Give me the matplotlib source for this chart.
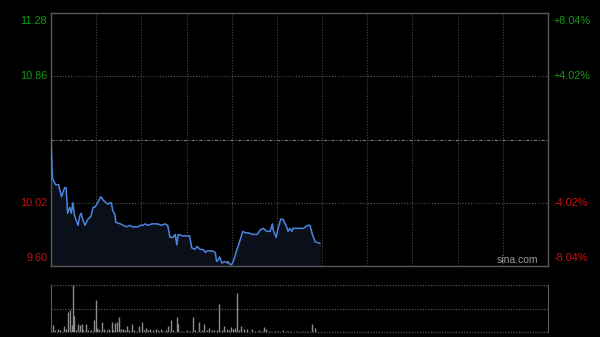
import numpy as np
import matplotlib
matplotlib.use('Agg')
import matplotlib.pyplot as plt

# intraday price (minutes since 9:30, HK session = 330 min)
t = [0, 1, 3, 5, 7, 9, 10, 11, 12.5, 13.5, 14.5, 15.5, 16.5, 18, 19, 20, 21, 22.5, 23.5, 24.5,
     26.5, 28, 29, 30.5, 32.5, 33, 34.5, 36.5, 38, 39, 40, 41, 42.5, 43, 46, 48, 50, 52.5, 54, 58,
     59, 61, 62.5, 64.5, 67, 70.5, 73.5, 75.5, 77.5, 79, 81, 82.5, 83.5, 84.5, 87.5, 92, 93.5, 95.5,
     97, 99, 101, 102.5, 103.5, 107, 109, 110, 111, 112, 113.5, 115.5, 117, 117.5, 119, 120, 121,
     122, 123.5, 125.5, 127, 127.5, 129, 131, 134, 137, 139, 141, 142, 143.5, 145.5, 147, 147.5,
     149.5, 150.5, 152.5, 154, 156, 157.5, 158.5, 160, 160.5, 165.5, 167.5, 170.5, 172, 173.5,
     175.5, 178.5]
price = [10.44, 10.18, 10.14, 10.14, 10.06, 10.12, 10.12, 9.95, 9.99, 9.95, 10.02, 9.94, 9.91,
         9.87, 9.93, 9.95, 9.91, 9.87, 9.89, 9.91, 9.93, 9.99, 9.99, 10.01, 10.05, 10.06, 10.04,
         10.02, 10.01, 10.02, 10.02, 9.97, 9.94, 9.89, 9.88, 9.87, 9.86, 9.87, 9.86, 9.86, 9.87,
         9.87, 9.88, 9.87, 9.88, 9.88, 9.87, 9.88, 9.87, 9.79, 9.79, 9.81, 9.74, 9.81, 9.80, 9.80,
         9.72, 9.71, 9.73, 9.71, 9.71, 9.69, 9.70, 9.70, 9.69, 9.63, 9.64, 9.66, 9.62, 9.63, 9.62,
         9.63, 9.61, 9.61, 9.63, 9.66, 9.71, 9.77, 9.82, 9.83, 9.82, 9.82, 9.81, 9.81, 9.84, 9.85,
         9.84, 9.83, 9.83, 9.88, 9.84, 9.79, 9.84, 9.91, 9.91, 9.87, 9.83, 9.85, 9.83, 9.85, 9.85,
         9.85, 9.87, 9.87, 9.81, 9.76, 9.75]

# volume bars (relative height, 100 = max)
vol_t = [1.5, 2.7, 4.9, 6, 8.6, 10, 11.5, 12.6, 13.7, 14.8, 15.5, 16.6, 18.1, 19.3, 20.4, 21.5,
         23, 24.8, 26.6, 28.6, 29.7, 30.8, 32.1, 33.6, 35.2, 37, 38.5, 40.3, 41.4, 42.7, 43.6,
         45.4, 46.5, 48, 49.1, 50.2, 52, 53.6, 55.1, 56.9, 58.7, 60.2, 61.8, 63.1, 64.6, 65.7,
         67.9, 69.7, 71.3, 72.8, 74.6, 76.4, 77.9, 79.5, 80.8, 83.4, 84.5, 86.8, 90.1, 92.3, 94.5,
         95.8, 98.5, 100, 101.6, 103.4, 104.9, 106.7, 108.2, 110, 111.8, 113.3, 114.9, 116.6,
         118.2, 119.5, 121.1, 122.4, 123.3, 124.8, 126.4, 128.2, 129.9, 133.2, 135.5, 138.3,
         139.9, 141.4, 142.8, 145.4, 148.7, 150.9, 154.2, 156.5, 158.7, 163.1, 167.5, 169.8,
         173.1, 175.3]
vol = [14, 5, 6, 5, 12, 6, 43, 46, 14, 100, 35, 5, 18, 14, 16, 5, 16, 5, 5, 25, 69, 8, 6, 21, 6,
       5, 6, 21, 5, 19, 21, 32, 6, 6, 5, 12, 5, 16, 5, 3, 12, 21, 5, 8, 5, 6, 5, 6, 5, 6, 3, 5,
       12, 26, 5, 32, 16, 3, 5, 3, 31, 5, 21, 5, 16, 5, 8, 5, 5, 5, 60, 5, 13, 6, 5, 11, 6, 8, 84,
       5, 13, 6, 6, 6, 3, 5, 3, 11, 6, 3, 3, 3, 5, 3, 3, 3, 3, 3, 18, 8]

prev_close = 10.44
y_ticks = [11.28, 10.86, 10.02, 9.60]
pct_labels = ['+8.04%', '+4.02%', '-4.02%', '-8.04%']
green = '#179917'
red = '#c41212'

plt.rcParams['font.family'] = ['Liberation Sans', 'DejaVu Sans']
fig = plt.figure(figsize=(6, 3.37), dpi=100, facecolor='black')

ax = fig.add_axes([0.085, 0.2107, 0.8283, 0.7507], facecolor='black')
ax.set_xlim(0, 330)
ax.set_ylim(9.60, 11.28)
for s in ax.spines.values():
    s.set_color('#5a5a5a')
    s.set_linewidth(1)
ax.set_xticks([])
ax.set_yticks([])

for x in range(30, 330, 30):
    ax.axvline(x, color='#4a4a4a', lw=0.8, ls=(0, (1, 1.5)))
for y in [10.86, 10.02]:
    ax.axhline(y, color='#555555', lw=0.8, ls=(0, (1, 1.5)))
ax.axhline(prev_close, color='#777777', lw=0.8, ls=(0, (3, 1.5, 1, 1.5)))

ax.fill_between(t, price, 9.60, color='#0a0f1a', zorder=2)
ax.plot(t, price, color='#4a84dc', lw=1.1, zorder=3)

for i, (v, lab) in enumerate(zip(y_ticks, pct_labels)):
    c = green if v > prev_close else red
    va = 'top' if i == 0 else ('bottom' if i == 3 else 'center')
    dy = -0.02 if i == 0 else (0.02 if i == 3 else 0)
    ax.text(-2.5, v + dy, f'{v:.2f}', color=c, fontsize=7.8, ha='right', va=va, clip_on=False)
    ax.text(333.6, v + dy, lab, color=c, fontsize=7.8, ha='left', va=va, clip_on=False)

ax.text(0.98, 0.005, 'sina.com', transform=ax.transAxes, color='#9a9a9a', fontsize=7.5,
        ha='right', va='bottom', zorder=4)

axv = fig.add_axes([0.085, 0.0148, 0.8283, 0.1395], facecolor='black')
axv.set_xlim(0, 330)
axv.set_ylim(0, 100)
axv.set_xticks([])
axv.set_yticks([])
for k in ['top', 'bottom']:
    axv.spines[k].set_visible(False)
for k in ['left', 'right']:
    axv.spines[k].set_color('#5a5a5a')
for y in [0, 50, 100]:
    axv.axhline(y, color='#555555', lw=0.9, ls=(0, (1, 1.2)), clip_on=False)
axv.vlines(vol_t, 0, vol, color='#8c8c8c', lw=1)

fig.savefig('out.png', dpi=100, facecolor='black')
